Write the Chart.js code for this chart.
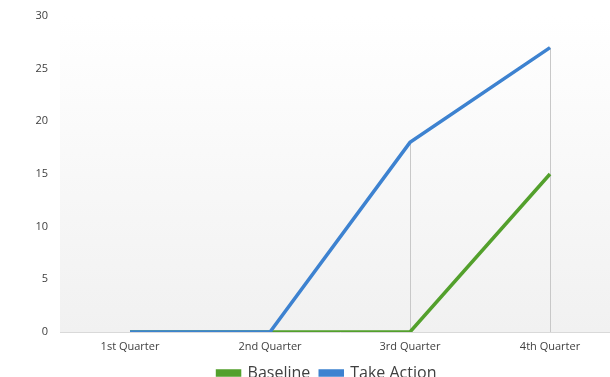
<!DOCTYPE html>
<html>
<head>
<meta charset="utf-8">
<script src="https://cdn.jsdelivr.net/npm/chart.js@4"></script>
<style>
  html, body { margin: 0; padding: 0; background: #fff; overflow: hidden; }
  #wrap { width: 662px; height: 391px; }
</style>
</head>
<body>
<div id="wrap"><canvas id="chart" width="662" height="391"></canvas></div>
<script>
const quarters = ['1st Quarter', '2nd Quarter', '3rd Quarter', '4th Quarter'];
const baseline = [0, 0, 0, 15];
const takeAction = [0, 0, 18, 27];
const yTicks = [0, 5, 10, 15, 20, 25, 30];

const fontFamily = '"Open Sans", "Noto Sans", sans-serif';

// plot area fill, white at top fading to light grey
const plotBackground = {
    id: 'plotBackground',
    beforeDraw: (chart) => {
        const { ctx, chartArea: a } = chart;
        const grad = ctx.createLinearGradient(0, a.top, 0, a.bottom);
        grad.addColorStop(0, '#ffffff');
        grad.addColorStop(1, '#f1f1f1');
        ctx.save();
        ctx.fillStyle = grad;
        ctx.fillRect(a.left, a.top, a.right - a.left, a.bottom - a.top);
        ctx.restore();
    }
};

// excel style drop lines from the highest point to the axis
const dropLines = {
    id: 'dropLines',
    beforeDatasetsDraw: (chart) => {
        const { ctx, scales } = chart;
        const y0 = scales.y.getPixelForValue(0);
        ctx.save();
        ctx.strokeStyle = '#c8c8c8';
        ctx.lineWidth = 1;
        quarters.forEach((q, i) => {
            const top = Math.max(baseline[i], takeAction[i]);
            const x = Math.round(scales.x.getPixelForValue(i)) + 0.5;
            ctx.beginPath();
            ctx.moveTo(x, scales.y.getPixelForValue(top));
            ctx.lineTo(x, y0);
            ctx.stroke();
        });
        ctx.restore();
    }
};

new Chart(document.getElementById('chart'), {
    type: 'line',
    data: {
        labels: quarters,
        datasets: [
            {
                label: 'Baseline',
                data: baseline,
                borderColor: '#53a02c',
                backgroundColor: '#53a02c',
                borderWidth: 3.5,
                pointRadius: 0,
                tension: 0,
                order: 1
            },
            {
                label: 'Take Action',
                data: takeAction,
                borderColor: '#3d82d0',
                backgroundColor: '#3d82d0',
                borderWidth: 3.5,
                pointRadius: 0,
                tension: 0,
                order: 0
            }
        ]
    },
    options: {
        responsive: false,
        animation: false,
        layout: { padding: { top: 16, left: 34, right: 42, bottom: 0 } },
        scales: {
            x: {
                offset: true,
                grid: { display: false, drawTicks: false },
                border: { display: true, color: '#d9d9d9', width: 1 },
                ticks: { color: '#404040', font: { family: fontFamily, size: 11 }, padding: 8 },
                afterFit: (scale) => {
                    scale.height = 23;
                    scale.paddingLeft = 0;
                    scale.paddingRight = 0;
                }
            },
            y: {
                min: 0,
                max: 30,
                afterBuildTicks: (scale) => { scale.ticks = yTicks.map((v) => ({ value: v })); },
                grid: { display: false, drawTicks: false },
                border: { display: false },
                ticks: { color: '#404040', font: { family: fontFamily, size: 11 }, padding: 12 },
                afterFit: (scale) => {
                    scale.width = 26;
                    scale.paddingTop = 0;
                    scale.paddingBottom = 0;
                }
            }
        },
        plugins: {
            legend: {
                position: 'bottom',
                labels: {
                    boxWidth: 22,
                    boxHeight: 4,
                    padding: 10,
                    color: '#404040',
                    font: { family: fontFamily, size: 16 },
                    sort: (a, b) => a.datasetIndex - b.datasetIndex
                }
            },
            tooltip: { enabled: false }
        }
    },
    plugins: [plotBackground, dropLines]
});
</script>
</body>
</html>
